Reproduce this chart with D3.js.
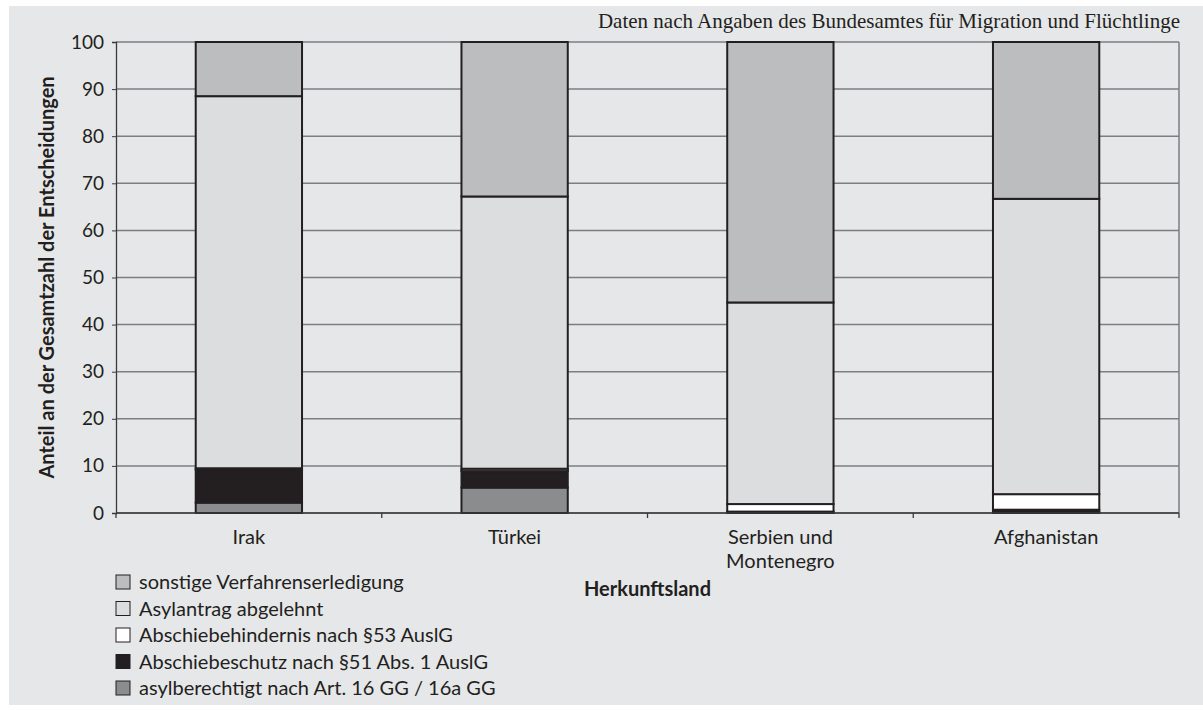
<!DOCTYPE html>
<html>
<head>
<meta charset="utf-8">
<script src="https://cdn.jsdelivr.net/npm/d3@7"></script>
<style>
  body { margin: 0; background: #fff; }
  svg { display: block; }
</style>
</head>
<body>
<svg width="1203" height="710"></svg>
<script>
// data (percent of all decisions)
const countries = ['Irak', 'Türkei', 'Serbien und Montenegro', 'Afghanistan'];
const seriesNames = [
  'asylberechtigt nach Art. 16 GG / 16a GG',
  'Abschiebeschutz nach §51 Abs. 1 AuslG',
  'Abschiebehindernis nach §53 AuslG',
  'Asylantrag abgelehnt',
  'sonstige Verfahrenserledigung',
];
const asylberechtigt = [2.2, 5.4, 0.1, 0.2];
const abschiebeschutz = [7.0, 3.5, 0.2, 0.5];
const abschiebehindernis = [0.3, 0.5, 1.6, 3.3];
const abgelehnt = [79.0, 57.8, 42.8, 62.7];
const sonstige = [11.5, 32.8, 55.3, 33.3];
const yTicks = [0, 10, 20, 30, 40, 50, 60, 70, 80, 90, 100];
const colors = ['#8b8c8e', '#231f20', '#ffffff', '#dcdddf', '#bcbdbf'];

const seriesValues = [asylberechtigt, abschiebeschutz, abschiebehindernis, abgelehnt, sonstige];
const table = countries.map((c, i) => {
  const row = { country: c };
  seriesNames.forEach((s, j) => { row[s] = seriesValues[j][i]; });
  return row;
});

const svg = d3.select('svg');
const margin = { left: 116, right: 1179, top: 42, bottom: 513 };
const sans = 'Lato, sans-serif';
const ink = '#231f20';

// grey panel
svg.append('rect')
  .attr('x', 9).attr('y', 6)
  .attr('width', 1194).attr('height', 699)
  .attr('fill', '#e6e7e9');

const x = d3.scaleBand()
  .domain(countries)
  .range([margin.left, margin.right])
  .paddingInner(0.6)
  .paddingOuter(0.3);

const y = d3.scaleLinear()
  .domain([0, 100])
  .range([margin.bottom, margin.top]);

// gridlines
svg.append('g')
  .selectAll('line')
  .data(yTicks)
  .join('line')
  .attr('x1', margin.left).attr('x2', margin.right)
  .attr('y1', (d) => y(d)).attr('y2', (d) => y(d))
  .attr('stroke', '#7d7e80')
  .attr('stroke-width', 1.5);

// right border of plot
svg.append('line')
  .attr('x1', margin.right).attr('x2', margin.right)
  .attr('y1', margin.top).attr('y2', margin.bottom)
  .attr('stroke', '#7d7e80')
  .attr('stroke-width', 1.5);

const stack = d3.stack().keys(seriesNames);
const layers = stack(table);

svg.append('g')
  .selectAll('g')
  .data(layers)
  .join('g')
  .attr('fill', (d, i) => colors[i])
  .selectAll('rect')
  .data((d) => d)
  .join('rect')
  .attr('x', (d) => x(d.data.country))
  .attr('width', x.bandwidth())
  .attr('y', (d) => y(d[1]))
  .attr('height', (d) => y(d[0]) - y(d[1]))
  .attr('stroke', ink)
  .attr('stroke-width', 2);

// y axis
const yAxis = svg.append('g')
  .attr('transform', `translate(${margin.left},0)`)
  .call(d3.axisLeft(y).tickValues(yTicks).tickSize(4).tickPadding(8));
yAxis.select('.domain').attr('stroke', '#3a3a3a').attr('stroke-width', 1.3);
yAxis.selectAll('.tick line').attr('stroke', '#3a3a3a');
yAxis.selectAll('.tick text')
  .attr('fill', ink)
  .style('font-family', sans)
  .style('font-size', '19px');

// x axis: ticks between categories
const boundaries = d3.range(countries.length + 1)
  .map((i) => margin.left + i * (margin.right - margin.left) / countries.length);
svg.append('line')
  .attr('x1', margin.left).attr('x2', margin.right)
  .attr('y1', margin.bottom).attr('y2', margin.bottom)
  .attr('stroke', '#3a3a3a').attr('stroke-width', 1.3);
svg.append('g')
  .selectAll('line')
  .data(boundaries)
  .join('line')
  .attr('x1', (d) => d).attr('x2', (d) => d)
  .attr('y1', margin.bottom).attr('y2', margin.bottom + 5)
  .attr('stroke', '#3a3a3a').attr('stroke-width', 1.3);

const xLabels = svg.append('g')
  .selectAll('text')
  .data(countries)
  .join('text')
  .attr('x', (d) => x(d) + x.bandwidth() / 2)
  .attr('y', 544)
  .attr('text-anchor', 'middle')
  .attr('fill', ink)
  .style('font-family', sans)
  .style('font-size', '20px');
xLabels.each(function (d) {
  const words = d === 'Serbien und Montenegro' ? ['Serbien und', 'Montenegro'] : [d];
  d3.select(this).selectAll('tspan')
    .data(words)
    .join('tspan')
    .attr('x', x(d) + x.bandwidth() / 2)
    .attr('dy', (w, i) => (i === 0 ? 0 : 24))
    .text((w) => w);
});

// axis titles
svg.append('text')
  .attr('transform', `translate(54,${(margin.top + margin.bottom) / 2}) rotate(-90)`)
  .attr('text-anchor', 'middle')
  .attr('fill', ink)
  .style('font-family', sans)
  .style('font-weight', 'bold')
  .style('font-size', '20px')
  .text('Anteil an der Gesamtzahl der Entscheidungen');

svg.append('text')
  .attr('x', (margin.left + margin.right) / 2)
  .attr('y', 596)
  .attr('text-anchor', 'middle')
  .attr('fill', ink)
  .style('font-family', sans)
  .style('font-weight', 'bold')
  .style('font-size', '20px')
  .text('Herkunftsland');

// source note
svg.append('text')
  .attr('x', 1180)
  .attr('y', 28)
  .attr('text-anchor', 'end')
  .attr('fill', ink)
  .style('font-family', '"Liberation Serif", serif')
  .style('font-size', '21px')
  .text('Daten nach Angaben des Bundesamtes für Migration und Flüchtlinge');

// legend, top entry is the top of the stack
const legendItems = seriesNames.map((s, i) => ({ name: s, color: colors[i] })).reverse();
const legend = svg.append('g')
  .selectAll('g')
  .data(legendItems)
  .join('g')
  .attr('transform', (d, i) => `translate(116,${575 + i * 26.5})`);
legend.append('rect')
  .attr('width', 14).attr('height', 14)
  .attr('fill', (d) => d.color)
  .attr('stroke', ink)
  .attr('stroke-width', 1);
legend.append('text')
  .attr('x', 23)
  .attr('y', 14)
  .attr('fill', ink)
  .style('font-family', sans)
  .style('font-size', '20px')
  .text((d) => d.name);
</script>
</body>
</html>
